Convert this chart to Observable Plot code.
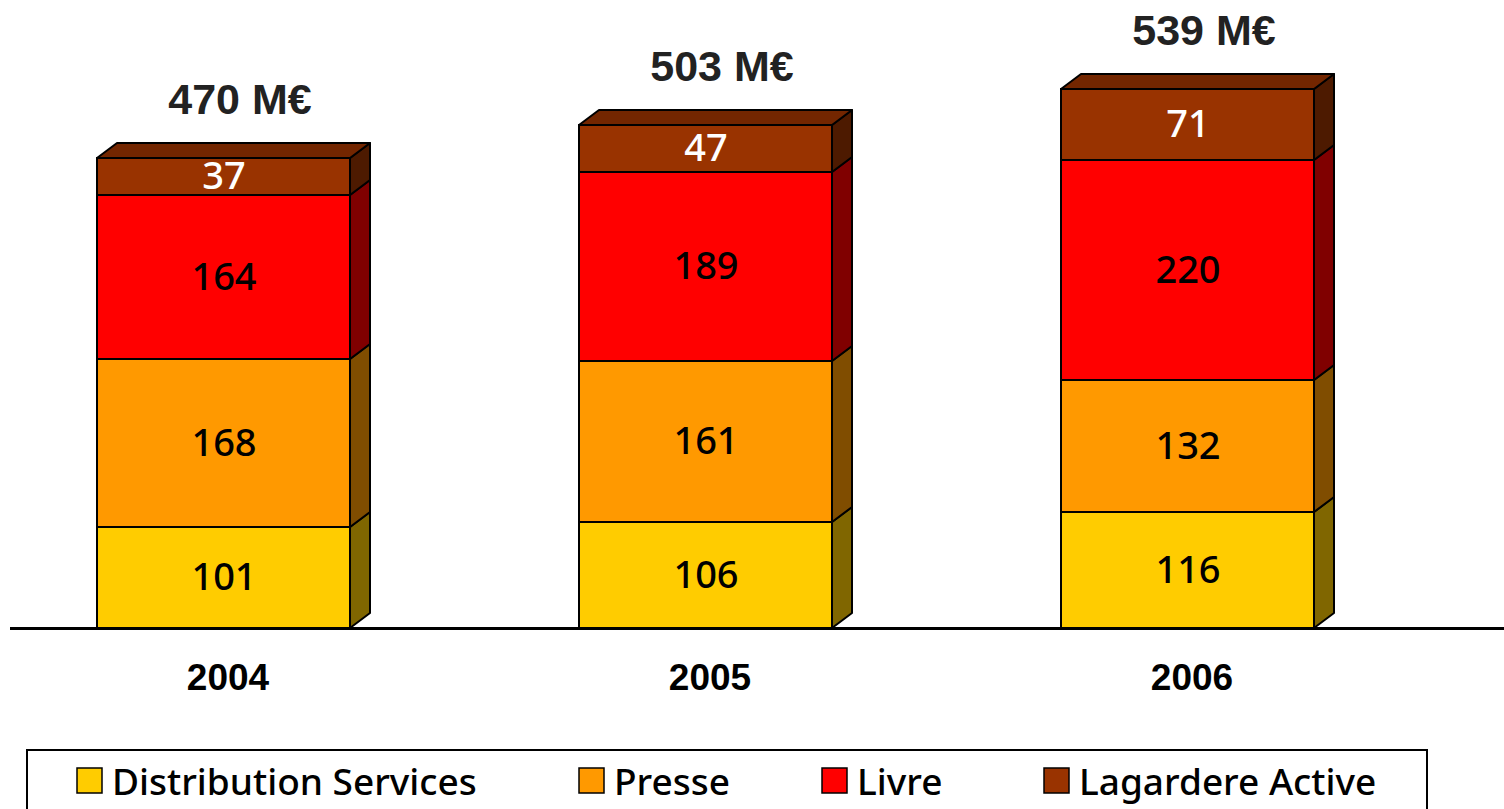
<!DOCTYPE html>
<html>
<head>
<meta charset="utf-8">
<script src="https://cdn.jsdelivr.net/npm/d3@7"></script>
<script src="https://cdn.jsdelivr.net/npm/@observablehq/plot@0.6"></script>
<style>
  body { margin: 0; background: #fff; }
  #chart svg { display: block; }
</style>
</head>
<body>
<div id="chart"></div>
<script>
const years = ["2004", "2005", "2006"];
const series = ["Distribution Services", "Presse", "Livre", "Lagardere Active"];
const distribution = [101, 106, 116];
const presse = [168, 161, 132];
const livre = [164, 189, 220];
const lagardere = [37, 47, 71];
const totals = [470, 503, 539];
const totalLabels = ["470 M€", "503 M€", "539 M€"];

const frontColors = ["#FFCC00", "#FF9900", "#FF0000", "#993300"];
const sideColors = ["#806600", "#804D00", "#800000", "#4D1A00"];
const topColor = "#732600";
const labelColors = ["#000", "#000", "#000", "#fff"];

const valuesBySeries = [distribution, presse, livre, lagardere];
const rows = [];
years.forEach((year, i) => {
  let acc = 0;
  series.forEach((s, k) => {
    const v = valuesBySeries[k][i];
    rows.push({year, series: s, k, value: v, y1: acc, y2: acc + v, top: k === series.length - 1});
    acc += v;
  });
});
const totalRows = years.map((year, i) => ({year, total: totals[i], label: totalLabels[i]}));

const DX = 20, DY = 15;

function faces(index, scales, values, dimensions, context) {
  const g = d3.create("svg:g");
  const bw = typeof scales.x.bandwidth === "function" ? scales.x.bandwidth() : scales.x.bandwidth;
  for (const i of index) {
    const d = rows[i];
    const x0 = scales.x(d.year), x1 = x0 + bw;
    const yb = scales.y(d.y1), yt = scales.y(d.y2);
    g.append("path")
      .attr("d", `M${x1},${yb}L${x1 + DX},${yb - DY}L${x1 + DX},${yt - DY}L${x1},${yt}Z`)
      .attr("fill", sideColors[d.k]).attr("stroke", "#000").attr("stroke-width", 2).attr("stroke-linejoin", "round");
    if (d.top) {
      g.append("path")
        .attr("d", `M${x0},${yt}L${x0 + DX},${yt - DY}L${x1 + DX},${yt - DY}L${x1},${yt}Z`)
        .attr("fill", topColor).attr("stroke", "#000").attr("stroke-width", 2).attr("stroke-linejoin", "round");
    }
  }
  return g.node();
}

const plot = Plot.plot({
  width: 1504,
  height: 745,
  marginLeft: 10,
  marginRight: 0,
  marginTop: 0,
  marginBottom: 117,
  x: {type: "band", domain: years, range: [20, 1392], paddingInner: 0.475, paddingOuter: 0.16, axis: null},
  y: {domain: [0, 628], axis: null},
  marks: [
    Plot.barY(rows, {x: "year", y1: "y1", y2: "y2", render: faces}),
    Plot.barY(rows, {x: "year", y1: "y1", y2: "y2", fill: d => frontColors[d.k], stroke: "#000", strokeWidth: 2}),
    Plot.ruleY([0], {stroke: "#000", strokeWidth: 3}),
    Plot.text(rows, {
      x: "year", y: d => (d.y1 + d.y2) / 2, text: d => String(d.value),
      fill: d => labelColors[d.k], fontSize: 38, fontWeight: 500, fontFamily: "Noto Sans"
    }),
    Plot.text(totalRows, {
      x: "year", y: "total", text: "label", dy: -58, dx: 16,
      fontSize: 43, fontWeight: "bold", fontFamily: "Liberation Sans, Arial", fill: "#222"
    }),
    Plot.text(totalRows, {
      x: "year", y: 0, text: "year", dy: 50, dx: 4,
      fontSize: 37, fontWeight: "bold", fontFamily: "Liberation Sans, Arial", fill: "#000"
    })
  ],
  style: {background: "#fff", overflow: "visible"}
});
document.getElementById("chart").appendChild(plot);

// legend below the plot
const legendX = [77, 579, 822, 1044];
const leg = d3.select("#chart").append("svg")
  .attr("width", 1504).attr("height", 64);
leg.append("rect").attr("x", 27).attr("y", 5).attr("width", 1400).attr("height", 80)
  .attr("fill", "#fff").attr("stroke", "#000").attr("stroke-width", 2);
series.forEach((s, k) => {
  leg.append("rect").attr("x", legendX[k]).attr("y", 23).attr("width", 25).attr("height", 25)
    .attr("fill", frontColors[k]).attr("stroke", "#000").attr("stroke-width", 1.5);
  leg.append("text").attr("x", legendX[k] + 35).attr("y", 50)
    .attr("font-family", "Noto Sans").attr("font-weight", 500).attr("font-size", 37)
    .attr("fill", "#000").text(s);
});
</script>
</body>
</html>
